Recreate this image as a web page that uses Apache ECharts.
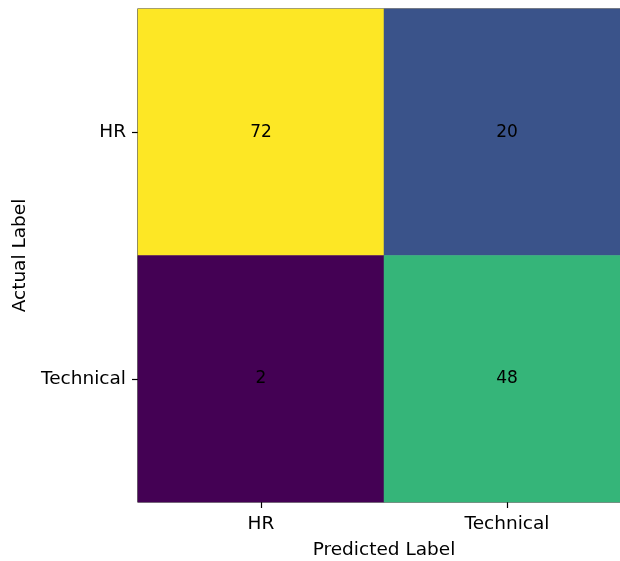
<!DOCTYPE html>
<html>
<head>
<meta charset="utf-8">
<script src="https://cdn.jsdelivr.net/npm/echarts@6/dist/echarts.min.js"></script>
<style>
  html, body { margin: 0; padding: 0; background: #fff; }
  #chart { width: 620px; height: 561px; }
</style>
</head>
<body>
<div id="chart"></div>
<script>
// labels for both axes
const predictedLabels = ['HR', 'Technical'];
const actualLabels = ['HR', 'Technical'];
// counts, one row per actual label
const rowHR = [72, 20];
const rowTechnical = [2, 48];
const viridis = ['#440154', '#482475', '#414487', '#355f8d', '#2a788e', '#21918c',
                 '#22a884', '#44bf70', '#7ad151', '#bddf26', '#fde725'];

let cells = [];
[rowHR, rowTechnical].forEach(function (row, y) {
    row.forEach(function (v, x) {
        cells.push([x, y, v]);
    });
});
const allVals = rowHR.concat(rowTechnical);

const font = 'DejaVu Sans';
const fs = 18.5;
const chart = echarts.init(document.getElementById('chart'));
chart.setOption({
    animation: false,
    textStyle: { fontFamily: font },
    grid: {
        left: 138, top: 9, width: 492, height: 493,
        outerBoundsMode: 'none',
        containLabel: false,
        show: true, borderColor: '#111', borderWidth: 1.2, backgroundColor: 'transparent'
    },
    xAxis: {
        type: 'category',
        data: predictedLabels,
        position: 'bottom',
        name: 'Predicted Label',
        nameLocation: 'middle',
        nameGap: 39,
        nameTextStyle: { fontSize: fs, color: '#000', fontFamily: font },
        axisLine: { show: false },
        axisTick: { show: true, alignWithLabel: true, length: 6, lineStyle: { color: '#000', width: 1.2 } },
        axisLabel: { fontSize: fs, color: '#000', margin: 13, fontFamily: font },
        splitLine: { show: false }
    },
    yAxis: {
        type: 'category',
        data: actualLabels,
        inverse: true,
        name: 'Actual Label',
        nameLocation: 'middle',
        nameRotate: 90,
        nameGap: 108,
        nameTextStyle: { fontSize: fs, color: '#000', fontFamily: font },
        axisLine: { show: false },
        axisTick: { show: true, alignWithLabel: true, length: 6, lineStyle: { color: '#000', width: 1.2 } },
        axisLabel: { fontSize: fs, color: '#000', margin: 12, fontFamily: font },
        splitLine: { show: false }
    },
    visualMap: {
        show: false,
        min: Math.min.apply(null, allVals),
        max: Math.max.apply(null, allVals),
        dimension: 2,
        inRange: { color: viridis }
    },
    series: [{
        type: 'heatmap',
        data: cells,
        label: {
            show: true,
            color: '#000',
            fontSize: 17,
            fontFamily: font
        },
        itemStyle: { borderWidth: 0 }
    }]
});
</script>
</body>
</html>
